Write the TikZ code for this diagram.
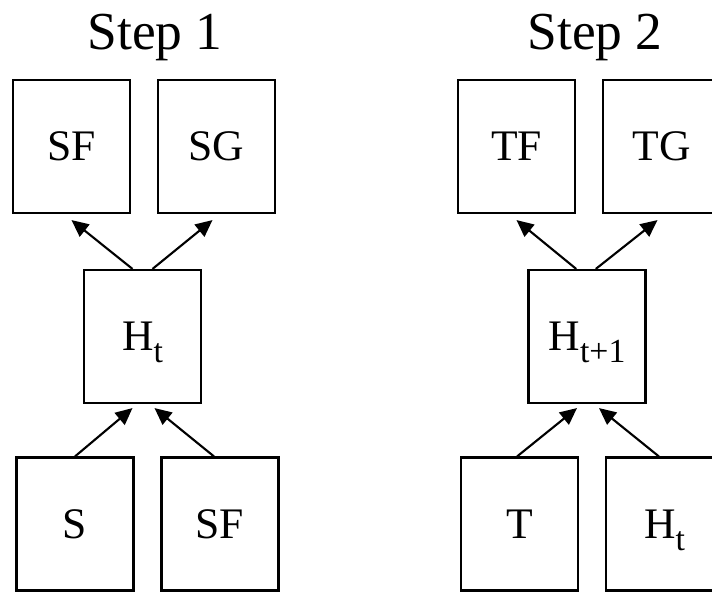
\documentclass[tikz,border=0pt]{standalone}
\usepackage{fontspec}
\setmainfont{Liberation Serif}
\usetikzlibrary{arrows.meta}
\newcommand{\idx}[1]{\smash{\raisebox{-0.27em}{\fontsize{24}{24}\selectfont #1}}}

\begin{document}
\begin{tikzpicture}[x=0.025cm, y=-0.025cm,
    box/.style={draw=black, line width=1.5pt, minimum width=2.925cm, minimum height=3.325cm, inner sep=0pt, font=\fontsize{31}{36}\selectfont},
    title/.style={anchor=base, font=\fontsize{38}{44}\selectfont},
    arr/.style={-{Triangle[length=12pt,width=11pt]}, line width=1.5pt}]
    \useasboundingbox (0,0) rectangle (712,592);

    % step 1
    \node[title] (step1) at (155,50) {Step 1};
    \node[box] (sf1) at (71.5,146.5) {SF};
    \node[box] (sg1) at (216.5,146.5) {SG};
    \node[box] (ht1) at (142.5,336.5) {H\idx{t}};
    \node[box] (s1) at (75,524) {S};
    \node[box] (sfb1) at (220,524) {SF};
    \draw[arr] ([xshift=-0.25cm]ht1.north) -- ([yshift=-0.15cm]sf1.south);
    \draw[arr] ([xshift=0.25cm]ht1.north) -- ([xshift=-0.1cm,yshift=-0.15cm]sg1.south);
    \draw[arr] (s1.north) -- ([xshift=-0.25cm,yshift=-0.1cm]ht1.south);
    \draw[arr] ([xshift=-0.15cm]sfb1.north) -- ([xshift=0.3cm,yshift=-0.1cm]ht1.south);

    % step 2
    \node[title] (step2) at (595,50) {Step 2};
    \node[box] (tf2) at (516.5,146.5) {TF};
    \node[box] (tg2) at (661.5,146.5) {TG};
    \node[box] (ht2) at (587,336.5) {H\idx{t+1}};
    \node[box] (t2) at (519.5,524) {T};
    \node[box] (htb2) at (664.5,524) {H\idx{t}};
    \draw[arr] ([xshift=-0.27cm]ht2.north) -- ([yshift=-0.15cm]tf2.south);
    \draw[arr] ([xshift=0.22cm]ht2.north) -- ([xshift=-0.1cm,yshift=-0.15cm]tg2.south);
    \draw[arr] ([xshift=-0.06cm]t2.north) -- ([xshift=-0.25cm,yshift=-0.1cm]ht2.south);
    \draw[arr] ([xshift=-0.14cm]htb2.north) -- ([xshift=0.3cm,yshift=-0.1cm]ht2.south);
\end{tikzpicture}
\end{document}
